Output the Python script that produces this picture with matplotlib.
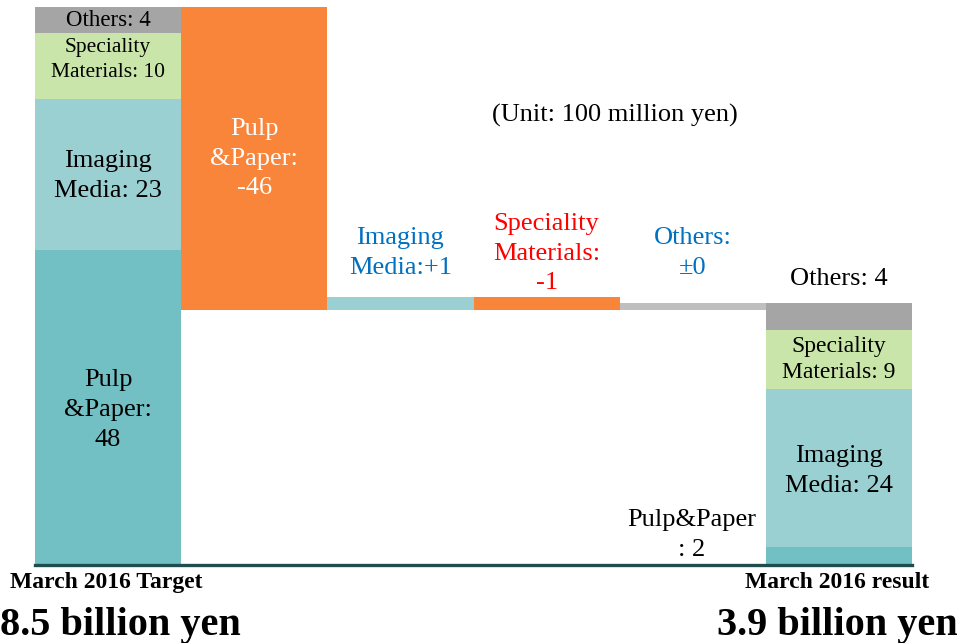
import matplotlib
matplotlib.use("Agg")
import matplotlib.pyplot as plt

# ---- data (unit: 100 million yen) ----
SEGMENTS = ["Pulp&Paper", "Imaging Media", "Speciality Materials", "Others"]
TARGET_VALUES = [48, 23, 10, 4]            # March 2016 Target stack
RESULT_VALUES = [2.7, 24.1, 9.0, 4.1]      # March 2016 result stack (drawn heights)
RESULT_LABELS = ["2", "24", "9", "4"]

BRIDGE_NAMES = ["Pulp\n&Paper:", "Imaging\nMedia:", "Speciality\nMaterials:", "Others:\n"]
BRIDGE_CHANGE = ["-46", "+1", "-1", "\u00b10"]
BRIDGE_LOW = [38.8, 38.8, 38.8, 38.8]
BRIDGE_HIGH = [85.0, 40.9, 40.9, 39.9]

TOTAL_LABELS = ["8.5 billion yen", "3.9 billion yen"]
END_LABELS = ["March 2016 Target", "March 2016 result"]

SEG_COLORS = ["#72bfc4", "#9bd0d3", "#c9e5a9", "#a5a5a5"]
BRIDGE_COLORS = ["#f9853b", "#9bd0d3", "#f9853b", "#bfbfbf"]
BLUE = "#0070c0"
RED = "#ff0000"
LS = 1.45   # line spacing of the multi-line labels

plt.rcParams["font.family"] = ["Liberation Serif", "DejaVu Serif"]

fig = plt.figure(figsize=(9.61, 6.43), dpi=100)
# axes placed so that 0 sits on the dark baseline and the 85 total touches the top
ax = fig.add_axes([35 / 961, 78 / 643, 877 / 961, 558 / 643])
ax.set_xlim(-0.5, 5.5)
ax.set_ylim(0, 85)
ax.axis("off")

# stacked end bars
bottom_t = 0.0
bottom_r = 0.0
for i, seg in enumerate(SEGMENTS):
    ax.bar(0, TARGET_VALUES[i], bottom=bottom_t, width=1.0,
           color=SEG_COLORS[i], linewidth=0)
    ax.bar(5, RESULT_VALUES[i], bottom=bottom_r, width=1.0,
           color=SEG_COLORS[i], linewidth=0)
    bottom_t += TARGET_VALUES[i]
    bottom_r += RESULT_VALUES[i]

# floating bridge bars
for j in range(4):
    ax.bar(j + 1, BRIDGE_HIGH[j] - BRIDGE_LOW[j], bottom=BRIDGE_LOW[j],
           width=1.0, color=BRIDGE_COLORS[j], linewidth=0)

# baseline
ax.axhline(0, color="#1f4d4f", lw=2.4, clip_on=False, zorder=5)

# ---- labels on the target bar ----
cum = [0]
for v in TARGET_VALUES:
    cum.append(cum[-1] + v)
mid = [(cum[k] + cum[k + 1]) / 2 for k in range(4)]
ax.text(0, mid[0] - 0.4, f"Pulp\n&Paper:\n{TARGET_VALUES[0]}", ha="center", va="center",
        fontsize=19, linespacing=LS)
ax.text(0, mid[1] - 0.2, f"Imaging\nMedia: {TARGET_VALUES[1]}", ha="center", va="center",
        fontsize=19, linespacing=LS)
ax.text(0, mid[2] + 0.9, f"Speciality\nMaterials: {TARGET_VALUES[2]}", ha="center",
        va="center", fontsize=15.5, linespacing=1.4)
ax.text(0, mid[3], f"Others: {TARGET_VALUES[3]}", ha="center", va="center",
        fontsize=16.5)

# ---- labels on the bridge ----
ax.text(1, (BRIDGE_LOW[0] + BRIDGE_HIGH[0]) / 2, f"{BRIDGE_NAMES[0]}\n{BRIDGE_CHANGE[0]}",
        ha="center", va="center", fontsize=19, color="white", linespacing=LS)
ax.text(2, 47.5, BRIDGE_NAMES[1] + BRIDGE_CHANGE[1], ha="center", va="center",
        fontsize=19, color=BLUE, linespacing=LS)
ax.text(3, 47.4, f"{BRIDGE_NAMES[2]}\n{BRIDGE_CHANGE[2]}", ha="center", va="center",
        fontsize=19, color=RED, linespacing=LS)
ax.text(4, 47.5, BRIDGE_NAMES[3] + BRIDGE_CHANGE[3], ha="center", va="center",
        fontsize=19, color=BLUE, linespacing=LS)

# ---- labels on the result bar ----
cum = [0]
for v in RESULT_VALUES:
    cum.append(cum[-1] + v)
mid = [(cum[k] + cum[k + 1]) / 2 for k in range(4)]
ax.text(3.99, 4.6, f"Pulp&Paper\n: {RESULT_LABELS[0]}", ha="center", va="center",
        fontsize=19, linespacing=LS)
ax.text(5, mid[1] - 0.4, f"Imaging\nMedia: {RESULT_LABELS[1]}", ha="center", va="center",
        fontsize=19, linespacing=LS)
ax.text(5, mid[2], f"Speciality\nMaterials: {RESULT_LABELS[2]}", ha="center",
        va="center", fontsize=17, linespacing=1.35)
ax.text(5, cum[4] + 3.7, f"Others: {RESULT_LABELS[3]}", ha="center", va="center",
        fontsize=19)

ax.text(3.47, 68.5, "(Unit: 100 million yen)", ha="center", va="center", fontsize=19)

# ---- bottom captions ----
fig.text(106 / 961, 55 / 643, END_LABELS[0], ha="center", va="baseline",
         fontsize=17, fontweight="bold")
fig.text(837 / 961, 55 / 643, END_LABELS[1], ha="center", va="baseline",
         fontsize=17, fontweight="bold")
fig.text(0 / 961, 8 / 643, TOTAL_LABELS[0], ha="left", va="baseline",
         fontsize=29, fontweight="bold")
fig.text(958 / 961, 8 / 643, TOTAL_LABELS[1], ha="right", va="baseline",
         fontsize=29, fontweight="bold")

fig.savefig("out.png", dpi=100, facecolor="white")
